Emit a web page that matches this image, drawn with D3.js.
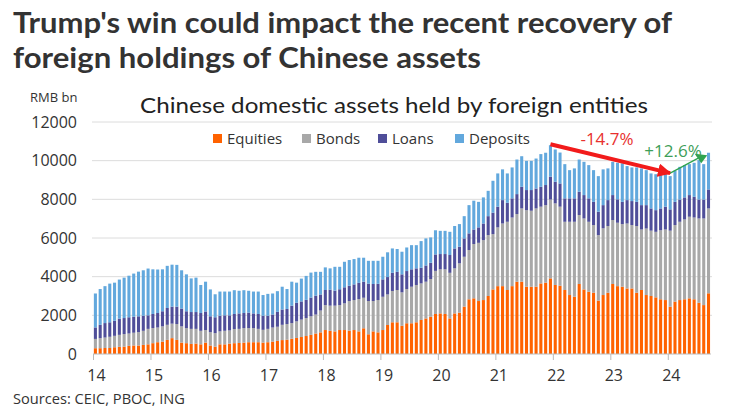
<!DOCTYPE html>
<html><head><meta charset="utf-8">
<script src="https://cdn.jsdelivr.net/npm/d3@7"></script>
<style>
html,body{margin:0;padding:0;background:#fff;}
svg{display:block;font-family:"Open Sans","Lato",sans-serif;}
</style></head>
<body><svg id="c" width="734" height="417"></svg>
<script>
const startYear = 2014;
const yearLabels = ["14","15","16","17","18","19","20","21","22","23","24"];
const seriesNames = ["Equities","Bonds","Loans","Deposits"];
const yTicks = [0,2000,4000,6000,8000,10000,12000];

// Monthly values, Jan 2014 - Sep 2024 (RMB bn)
const equities = [
 300,300,310,310,350,370,380,420,440,440,470,500,
 560,610,640,730,820,730,590,560,520,540,500,590,
 440,380,500,500,540,560,570,590,610,610,610,590,
 610,640,680,720,740,790,830,880,930,990,1060,1120,
 1240,1200,1170,1240,1240,1210,1240,1170,1330,1020,1170,1120,
 1240,1500,1640,1640,1460,1590,1590,1640,1760,1840,1930,2070,
 2100,2070,1840,2100,2140,2450,2830,2880,2740,2790,3000,3340,
 3510,3510,3310,3510,3740,3740,3480,3480,3480,3650,3690,3910,
 3570,3530,3310,3050,2960,3620,3340,3220,3170,2760,3050,3170,
 3620,3510,3480,3390,3390,3170,3310,3050,3000,2930,2830,2790,
 2450,2710,2790,2830,2880,2830,2650,2530,3140];
const bonds = [
 480,520,540,580,590,620,650,640,660,690,730,800,
 780,760,790,780,750,820,840,780,780,760,700,650,
 690,700,670,700,680,730,730,750,730,730,690,660,
 690,730,730,790,810,810,860,900,930,960,980,1130,
 1290,1300,1330,1290,1380,1530,1550,1670,1580,1720,1570,1670,
 1720,1580,1620,1670,1730,1770,1890,1930,1890,1900,1950,2230,
 2280,2310,2360,2330,2550,2580,2550,2810,3010,3100,3150,2860,
 3040,3240,3530,3550,3500,3790,3960,3930,4050,3970,4010,4080,
 4220,4090,3530,3790,3880,3570,3670,3620,3500,3390,3450,3450,
 3310,3280,3240,3360,3280,3450,3130,3440,3380,3390,3570,3650,
 3930,3960,4050,4130,4220,4230,4360,4480,4390];
const loans = [
 595,690,750,750,780,840,830,840,830,820,780,700,
 730,750,780,870,880,900,920,870,870,870,920,960,
 820,820,810,800,780,780,800,780,800,760,770,730,
 680,670,770,790,780,900,960,940,940,970,980,830,
 780,830,780,820,830,790,810,840,830,900,880,840,
 900,900,940,940,930,930,900,860,810,840,840,850,
 790,790,920,1030,860,950,860,750,800,860,980,1110,
 1070,1210,980,990,1030,1120,1040,1070,1030,1030,1040,1180,
 1120,1200,1210,1210,1210,1200,1210,1210,1200,1210,1200,1340,
 1290,1210,1150,1210,1240,1250,1260,1210,1150,1120,1130,1180,
 1100,1200,1150,1140,1120,1070,980,980,980];
const deposits = [
 1755,1850,1910,2000,1970,2020,2090,2150,2230,2310,2350,2420,
 2310,2250,2170,2180,2170,2160,1980,1910,1740,1780,1450,1540,
 1390,1190,1250,1230,1230,1230,1170,1180,1130,1130,1160,1070,
 1130,1090,1070,1180,1030,1240,1040,1180,1240,1290,1230,1170,
 1170,1100,1230,1160,1320,1330,1310,1300,1240,1180,1200,1190,
 1170,1280,1260,1180,1170,1220,1250,1200,1380,1400,1310,1250,
 1200,1200,1200,1160,1170,1150,1460,1490,1320,1350,1310,1650,
 1720,1590,1520,1600,1790,1580,1510,1510,1550,1690,1670,1630,
 1670,1600,1770,1460,1550,1670,1720,1720,1640,1840,1850,1640,
 1720,1890,1990,1760,1740,1780,1900,1810,1810,1860,1810,1750,
 1720,1610,1690,1670,1600,1760,2040,1830,1900];

const colors = {Equities:"#FF6200", Bonds:"#A8A8A8", Loans:"#4F4E99", Deposits:"#62A8DD"};

const n = equities.length;
const rows = d3.range(n).map(i => ({i, Equities:equities[i], Bonds:bonds[i], Loans:loans[i], Deposits:deposits[i]}));
rows.forEach(r => r.total = r.Equities + r.Bonds + r.Loans + r.Deposits);

const svg = d3.select("#c");
const plotL = 93, monthW = 4.79, plotR = plotL + n * monthW;
const x = d3.scaleBand().domain(d3.range(n)).range([plotL, plotR]).paddingInner(0.36).paddingOuter(0.18);
const y = d3.scaleLinear().domain([0, 12000]).range([354, 122]);

// Titles
svg.append("text").attr("x", 13).attr("y", 33).attr("font-size", 29).attr("font-weight", 700).attr("fill", "#333")
  .attr("font-family", "Lato, sans-serif").attr("textLength", 659).attr("lengthAdjust", "spacingAndGlyphs")
  .text("Trump's win could impact the recent recovery of");
svg.append("text").attr("x", 13).attr("y", 68).attr("font-size", 29).attr("font-weight", 700).attr("fill", "#333")
  .attr("font-family", "Lato, sans-serif").attr("textLength", 468).attr("lengthAdjust", "spacingAndGlyphs")
  .text("foreign holdings of Chinese assets");
svg.append("text").attr("x", 30).attr("y", 102).attr("font-size", 13).attr("fill", "#333").text("RMB bn");
svg.append("text").attr("x", 140).attr("y", 113).attr("font-size", 22).attr("fill", "#222")
  .attr("font-family", "Lato, sans-serif").attr("textLength", 508).attr("lengthAdjust", "spacingAndGlyphs")
  .text("Chinese domestic assets held by foreign entities");

// Grid
svg.append("g").selectAll("line").data(yTicks.filter(d => d > 0)).join("line")
  .attr("x1", 92).attr("x2", 712).attr("y1", d => y(d)).attr("y2", d => y(d))
  .attr("stroke", "#dcdcdc").attr("stroke-width", 1);

// Y axis labels
const yAxis = d3.axisLeft(y).tickValues(yTicks).tickSize(0).tickPadding(0).tickFormat(d3.format("d"));
const gy = svg.append("g").attr("transform", "translate(77,0)").call(yAxis);
gy.select(".domain").remove();
gy.selectAll("text").attr("font-size", 16).attr("fill", "#333").attr("font-family", "Open Sans, sans-serif");

// Bars
const stack = d3.stack().keys(seriesNames)(rows);
svg.append("g").selectAll("g").data(stack).join("g").attr("fill", d => colors[d.key])
  .selectAll("rect").data(d => d).join("rect")
  .attr("x", d => x(d.data.i)).attr("width", x.bandwidth())
  .attr("y", d => y(d[1])).attr("height", d => y(d[0]) - y(d[1]));

// X axis
const xYear = d3.scaleLinear().domain([startYear, startYear + n / 12]).range([plotL, plotR]);
const yearVals = yearLabels.map((l, k) => startYear + k);
const xAxis = d3.axisBottom(xYear).tickValues(yearVals).tickSize(6).tickPadding(10)
  .tickFormat((d, k) => yearLabels[k]);
const gx = svg.append("g").attr("transform", "translate(0,354)").call(xAxis);
gx.select(".domain").attr("d", `M${plotL},0H${plotR}`).attr("stroke", "#bbb");
gx.selectAll(".tick line").attr("stroke", "#bbb");
gx.selectAll("text").attr("font-size", 16).attr("fill", "#333").attr("dx", 3).attr("font-family", "Open Sans, sans-serif");

// Legend
const legX = [213, 302, 378, 455];
const leg = svg.append("g").selectAll("g").data(seriesNames).join("g")
  .attr("transform", (d, k) => `translate(${legX[k]},134)`);
leg.append("rect").attr("width", 9).attr("height", 9).attr("fill", d => colors[d]);
leg.append("text").attr("x", 14).attr("y", 9.5).attr("font-size", 15).attr("fill", "#333").text(d => d);

// Annotations
const peak = 95, trough = 120, endI = 127;
const cx = i => x(i) + x.bandwidth() / 2;
const defs = svg.append("defs");
defs.append("marker").attr("id", "ar").attr("viewBox", "0 0 10 10").attr("refX", 9).attr("refY", 5)
  .attr("markerWidth", 3.4).attr("markerHeight", 3.4).attr("orient", "auto")
  .append("path").attr("d", "M0,0L10,5L0,10Z").attr("fill", "#F21B1B");
svg.append("line").attr("x1", cx(peak)).attr("y1", y(rows[peak].total) - 1)
  .attr("x2", cx(trough)).attr("y2", y(rows[trough].total) - 3)
  .attr("stroke", "#F21B1B").attr("stroke-width", 4).attr("marker-end", "url(#ar)");
// green arrow: thin line ending in a downward triangle on top of the Aug-24 bar
const tipX = cx(endI) - 2.5, tipY = y(rows[endI].total) - 1;
svg.append("line").attr("x1", cx(trough)).attr("y1", y(rows[trough].total) - 3)
  .attr("x2", tipX - 3).attr("y2", tipY - 5)
  .attr("stroke", "#2EA44F").attr("stroke-width", 1.3);
svg.append("path").attr("d", d3.line()([[tipX - 6.5, tipY - 9.5], [tipX + 6, tipY - 8], [tipX, tipY]]) + "Z")
  .attr("fill", "#2EA44F");
svg.append("text").attr("x", 607).attr("y", 145).attr("text-anchor", "middle").attr("font-size", 17)
  .attr("fill", "#E8312F").text("-14.7%");
svg.append("text").attr("x", 673).attr("y", 157).attr("text-anchor", "middle").attr("font-size", 17)
  .attr("fill", "#3E9E58").text("+12.6%");

// Source
svg.append("text").attr("x", 13).attr("y", 404).attr("font-size", 14).attr("fill", "#333")
  .attr("textLength", 172).attr("lengthAdjust", "spacingAndGlyphs").text("Sources: CEIC, PBOC, ING");
</script></body></html>
